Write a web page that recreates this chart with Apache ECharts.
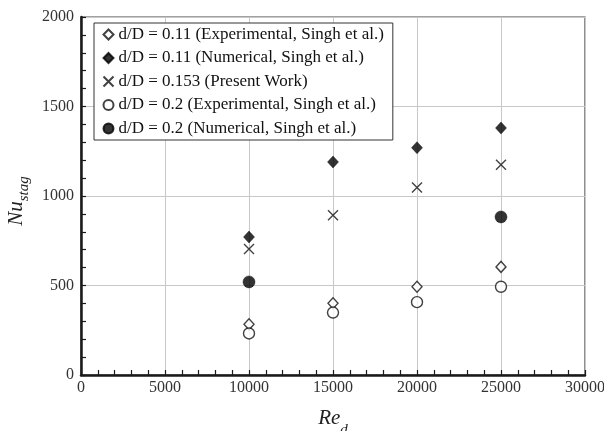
<!DOCTYPE html>
<html>
<head>
<meta charset="utf-8">
<script src="https://cdn.jsdelivr.net/npm/echarts@6/dist/echarts.min.js"></script>
<style>html,body{margin:0;padding:0;background:#fff}#c{width:604px;height:431px}</style>
</head>
<body>
<div id="c"></div>
<script>
const seriesNames = [
  'd/D = 0.11 (Experimental, Singh et al.)',
  'd/D = 0.11 (Numerical, Singh et al.)',
  'd/D = 0.153 (Present Work)',
  'd/D = 0.2 (Experimental, Singh et al.)',
  'd/D = 0.2 (Numerical, Singh et al.)'
];
const reExp011 = [10000, 15000, 20000, 25000];
const nuExp011 = [283, 401, 493, 604];
const reNum011 = [10000, 15000, 20000, 25000];
const nuNum011 = [771, 1190, 1270, 1380];
const rePresent = [10000, 15000, 20000, 25000];
const nuPresent = [704, 893, 1047, 1175];
const reExp02 = [10000, 15000, 20000, 25000];
const nuExp02 = [232, 349, 407, 493];
const reNum02 = [10000, 25000];
const nuNum02 = [520, 883];
const xTicks = [0, 5000, 10000, 15000, 20000, 25000, 30000];
const yTicks = [0, 500, 1000, 1500, 2000];

const pairs = (xs, ys) => xs.map((x, i) => [x, ys[i]]);
const serif = '"Liberation Serif", "DejaVu Serif", serif';
const crossPath = 'path://M0,0L10,10M10,0L0,10';

const chart = echarts.init(document.getElementById('c'), null, {renderer: 'canvas'});
const axisCommon = {
  axisLine: {show: true, lineStyle: {color: '#1a1a1a', width: 2.5}},
  axisTick: {show: true, inside: true, length: 5, lineStyle: {color: '#1a1a1a', width: 1.2}},
  minorTick: {show: true, splitNumber: 5, length: 5, lineStyle: {color: '#1a1a1a', width: 1.2}},
  splitLine: {show: true, lineStyle: {color: '#c8c8c8', width: 1}},
  axisLabel: {fontFamily: serif, fontSize: 16, color: '#333', formatter: v => String(v)}
};
chart.setOption({
  animation: false,
  backgroundColor: '#fff',
  grid: {left: 81, right: 19, top: 17, bottom: 56, containLabel: false, outerBoundsMode: 'none',
         show: true, borderColor: '#444', borderWidth: 1.2, backgroundColor: 'transparent'},
  legend: {
    orient: 'vertical', left: 94, top: 23,
    backgroundColor: '#fff',
    borderColor: '#333', borderWidth: 1,
    padding: [3, 9, 3, 7],
    itemWidth: 10, itemHeight: 10, itemGap: 6.5,
    textStyle: {fontFamily: serif, fontSize: 17, color: '#111', lineHeight: 17},
    data: seriesNames
  },
  xAxis: Object.assign({}, axisCommon, {
    type: 'value', min: xTicks[0], max: xTicks[xTicks.length - 1], interval: 5000,
    name: '{a|Re}{b|d}', nameLocation: 'middle', nameGap: 23,
    nameTextStyle: {rich: {
      a: {fontFamily: serif, fontStyle: 'italic', fontSize: 21, lineHeight: 40, color: '#222', verticalAlign: 'middle'},
      b: {fontFamily: serif, fontStyle: 'italic', fontSize: 15, lineHeight: 15, color: '#222', verticalAlign: 'bottom'}
    }},
    axisLabel: Object.assign({}, axisCommon.axisLabel, {margin: 5})
  }),
  yAxis: Object.assign({}, axisCommon, {
    type: 'value', min: yTicks[0], max: yTicks[yTicks.length - 1], interval: 500,
    name: '{a|Nu}{b|stag}', nameLocation: 'middle', nameGap: 44,
    nameTextStyle: {padding: [0, 10, 0, 0], rich: {
      a: {fontFamily: serif, fontStyle: 'italic', fontSize: 21, lineHeight: 30, color: '#222', verticalAlign: 'middle'},
      b: {fontFamily: serif, fontStyle: 'italic', fontSize: 15, lineHeight: 15, color: '#222', verticalAlign: 'bottom'}
    }},
    axisLabel: Object.assign({}, axisCommon.axisLabel, {margin: 7})
  }),
  series: [
    {name: seriesNames[0], type: 'scatter', symbol: 'diamond', symbolSize: [10, 11], data: pairs(reExp011, nuExp011),
     itemStyle: {color: '#fff', borderColor: '#111', borderWidth: 1.4}},
    {name: seriesNames[1], type: 'scatter', symbol: 'diamond', symbolSize: [11, 12], data: pairs(reNum011, nuNum011),
     itemStyle: {color: '#000', borderColor: '#000', borderWidth: 0.5}},
    {name: seriesNames[2], type: 'scatter', symbol: crossPath, symbolSize: 10, data: pairs(rePresent, nuPresent),
     itemStyle: {color: 'none', borderColor: '#111', borderWidth: 1.4}},
    {name: seriesNames[3], type: 'scatter', symbol: 'circle', symbolSize: 11, data: pairs(reExp02, nuExp02),
     itemStyle: {color: '#fff', borderColor: '#111', borderWidth: 1.4}},
    {name: seriesNames[4], type: 'scatter', symbol: 'circle', symbolSize: 12, data: pairs(reNum02, nuNum02),
     itemStyle: {color: '#000', borderColor: '#000', borderWidth: 0.5}}
  ]
});
</script>
</body>
</html>
